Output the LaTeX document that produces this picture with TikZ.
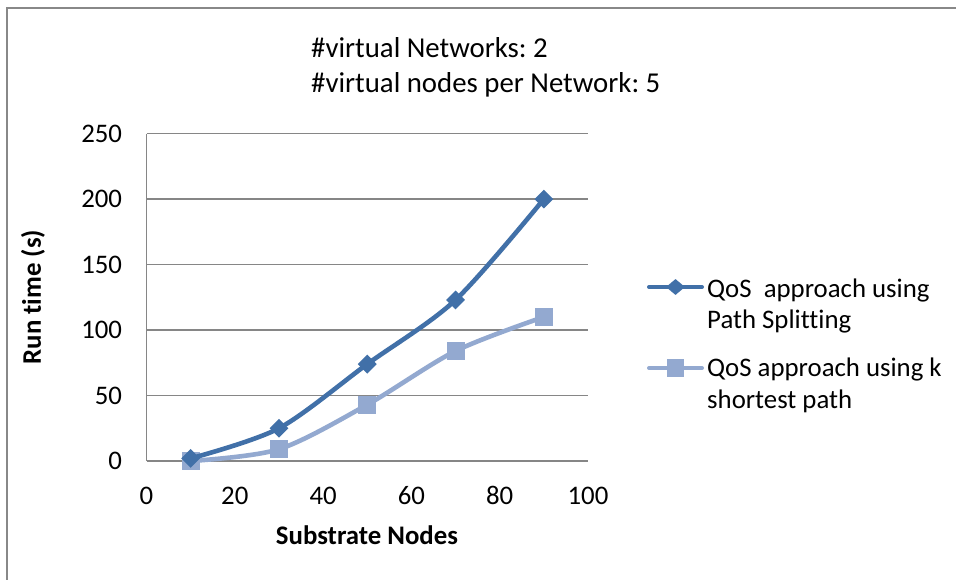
\documentclass[tikz,border=0pt]{standalone}
\usepackage{fontspec}
\setmainfont{Carlito}[Ligatures=NoCommon]
\usetikzlibrary{shapes.geometric}
\frenchspacing

\definecolor{frameGray}{HTML}{888888}
\definecolor{gridGray}{HTML}{868686}
\definecolor{seriesA}{HTML}{4170A8}
\definecolor{seriesB}{HTML}{93A9D0}

\tikzset{
  lbl/.style={inner sep=0pt, font=\fontsize{26.8}{30}\selectfont},
  ttl/.style={inner sep=0pt, font=\fontsize{28.8}{33}\selectfont},
  axlbl/.style={lbl, font=\fontsize{26.8}{30}\selectfont\bfseries},
  gridline/.style={draw=gridGray, line width=1.4pt},
  lineA/.style={draw=seriesA, line width=4.6pt, line cap=round, line join=round},
  lineB/.style={draw=seriesB, line width=4.6pt, line cap=round, line join=round},
  markA/.style={diamond, fill=seriesA, inner sep=0pt, minimum width=19pt, minimum height=19pt},
  markB/.style={rectangle, fill=seriesB, inner sep=0pt, minimum width=18pt, minimum height=18pt},
}

\begin{document}
\begin{tikzpicture}[x=1pt, y=-1pt]
  \path[use as bounding box] (0,0) rectangle (956,580);
  \fill[white] (0,0) rectangle (956,580);

  % chart frame (only top and left edges fall inside the page)
  \draw[draw=frameGray, line width=2pt] (6.5,590) -- (6.5,8.5) -- (970,8.5);

  % title text box
  \node[ttl, anchor=base west] (t1) at (311,58) {\#virtual Networks: 2};
  \node[ttl, anchor=base west] (t2) at (311,93) {\#virtual nodes per Network: 5};

  % plot area in data coordinates
  \begin{scope}[shift={(146.5,461)}, x=4.415pt, y=1.3096pt]
    \foreach \v in {50,100,150,200,250}
      \draw[gridline] (0,\v) -- (100,\v);
    \draw[gridline] (0,0) -- (0,250);
    \draw[gridline] (0,0) -- (100,0);

    \foreach \v in {0,50,100,150,200,250}
      \node[lbl, anchor=east] (yt\v) at (-5.5,\v) {\v};
    \foreach \v in {0,20,40,60,80,100}
      \node[lbl] (xt\v) at (\v,-26.5) {\v};

    % k shortest path series
    \draw[lineB] plot[smooth, tension=0.5] coordinates {(10,0) (30,9) (50,43) (70,84) (90,110)};
    \foreach \px/\py [count=\i] in {10/0,30/9,50/43,70/84,90/110}
      \node[markB] (b\i) at (\px,\py) {};

    % path splitting series
    \draw[lineA] plot[smooth, tension=0.5] coordinates {(10,2) (30,25) (50,74) (70,123) (90,200)};
    \foreach \px/\py [count=\i] in {10/2,30/25,50/74,70/123,90/200}
      \node[markA] (a\i) at (\px,\py) {};
  \end{scope}

  % axis titles
  \node[axlbl, rotate=90] (ylab) at (33,297) {Run time (s)};
  \node[axlbl] (xlab) at (367,535) {Substrate Nodes};

  % legend
  \coordinate (la1) at (649,287);
  \coordinate (la2) at (702,287);
  \draw[lineA, line width=4pt] (la1) -- (la2);
  \node[markA, minimum width=19pt, minimum height=16pt] (lma) at (675.5,287) {};
  \node[lbl, anchor=base west] (lt1) at (707,297) {QoS\ \ approach using};
  \node[lbl, anchor=base west] (lt2) at (707,328) {Path Splitting};

  \coordinate (lb1) at (649,368);
  \coordinate (lb2) at (702,368);
  \draw[lineB, line width=4pt] (lb1) -- (lb2);
  \node[markB, minimum width=17pt, minimum height=18pt] (lmb) at (675.5,368) {};
  \node[lbl, anchor=base west] (lt3) at (707,376) {QoS approach using k};
  \node[lbl, anchor=base west] (lt4) at (707,408) {shortest path};
\end{tikzpicture}
\end{document}
